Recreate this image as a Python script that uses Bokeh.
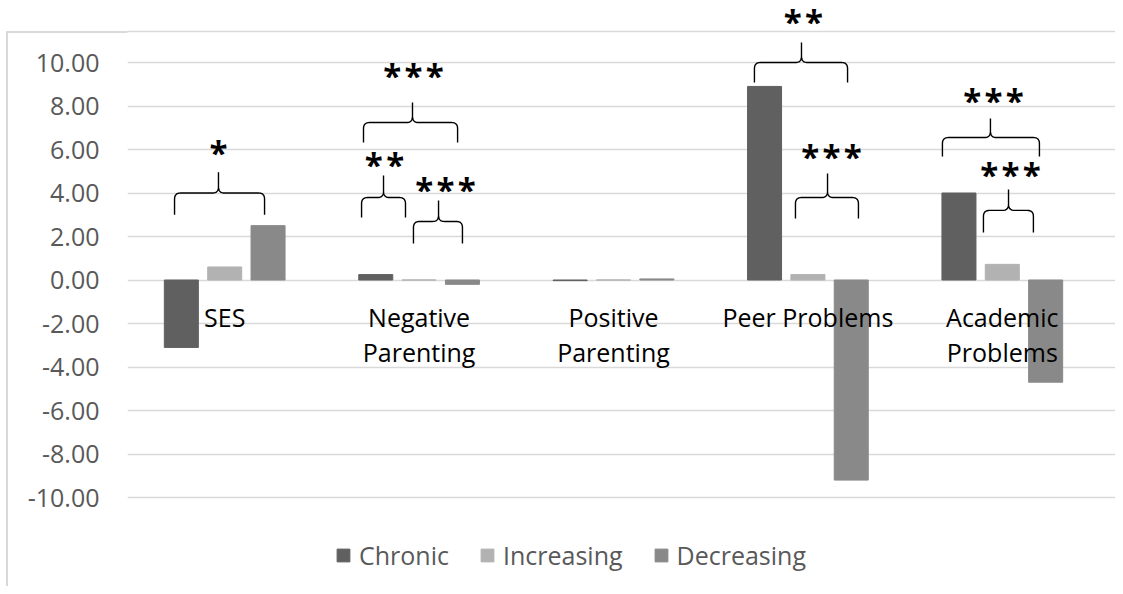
import numpy as np
from bokeh.plotting import figure
from bokeh.models import Range1d, FixedTicker, PrintfTickFormatter, BoxAnnotation, ColumnDataSource
from bokeh.core.properties import value
from bokeh.embed import file_html
from bokeh.resources import INLINE

# ---------------- data ----------------
categories = ["SES", "Negative\nParenting", "Positive\nParenting", "Peer Problems", "Academic\nProblems"]
chronic = [-3.1, 0.25, -0.03, 8.9, 4.0]
increasing = [0.6, 0.0, 0.0, 0.25, 0.72]
decreasing = [2.5, -0.2, 0.05, -9.2, -4.7]
series_names = ["Chronic", "Increasing", "Decreasing"]
y_ticks = [-10, -8, -6, -4, -2, 0, 2, 4, 6, 8, 10]

# significance annotations (category index, star label)
sig_cat = [0, 1, 1, 1, 3, 3, 4, 4]
sig_label = ["*", "***", "**", "***", "**", "***", "***", "***"]

# ---------------- annotation geometry (category-relative) ----------------
brace_left = [-0.258, -0.286, -0.296, -0.029, -0.275, -0.064, -0.308, -0.097]
brace_peak = [-0.032, -0.034, -0.183, 0.100, -0.033, 0.101, -0.061, 0.032]
brace_right = [0.205, 0.198, -0.070, 0.223, 0.204, 0.260, 0.191, 0.160]
brace_end = [3.0, 6.32, 2.87, 1.68, 9.08, 2.83, 5.68, 2.18]
brace_mid = [4.0, 7.24, 3.79, 2.69, 10.0, 3.79, 6.55, 3.2]
brace_tip = [4.95, 8.16, 4.80, 3.66, 10.92, 4.9, 7.43, 4.16]
star_dx = [-0.032, -0.029, -0.178, 0.136, -0.023, 0.121, -0.045, 0.042]
star_y = [5.95, 9.49, 5.40, 4.25, 12.0, 5.77, 8.34, 4.94]

colors = ["#606060", "#b2b2b2", "#898989"]
FONT = "Open Sans"

n = len(categories)
centers = np.arange(n) + 0.5
bar_w = 0.175
offs = [-0.223, 0.0, 0.223]

p = figure(width=1115, height=586, output_backend="svg", toolbar_location=None,
           x_range=Range1d(0, 5.0823), y_range=Range1d(-14.092, 12.851),
           x_axis_location=None, y_axis_location="left",
           min_border_left=127, min_border_right=0, min_border_top=0, min_border_bottom=0)
p.outline_line_color = None
p.background_fill_color = "white"
p.border_fill_alpha = 0
p.styles = {
    "background-color": "white",
    "background-image": "linear-gradient(#d9d9d9, #d9d9d9), linear-gradient(#d9d9d9, #d9d9d9)",
    "background-position": "6px 31px, 6px 31px",
    "background-size": "2px 700px, 1300px 2px",
    "background-repeat": "no-repeat",
}

# bars
for vals, name, col, off in zip([chronic, increasing, decreasing], series_names, colors, offs):
    src = ColumnDataSource(dict(x=centers + off, top=vals))
    p.vbar(x="x", top="top", bottom=0, width=bar_w, source=src, fill_color=col,
           line_color=col, legend_label=name)

# axis styling
ax = p.yaxis[0]
ax.ticker = FixedTicker(ticks=y_ticks)
ax.formatter = PrintfTickFormatter(format="%.2f")
ax.axis_line_color = None
ax.major_tick_line_color = None
ax.minor_tick_line_color = None
ax.major_label_text_font = FONT
ax.major_label_text_font_size = "25px"
ax.major_label_text_color = "#595959"
ax.major_label_standoff = 22
p.xgrid.visible = False
p.ygrid.grid_line_color = "#d9d9d9"
p.ygrid.grid_line_width = 1.6
p.ygrid.bounds = (0, 5)

# category labels inside plot (two lines)
line1 = [c.split("\n")[0] for c in categories]
line2 = [c.split("\n")[1] if "\n" in c else "" for c in categories]
p.text(x=centers, y=[-2.18] * n, text=line1, text_font=value(FONT), text_font_size="25px",
       text_color="black", text_align="center", text_baseline="alphabetic", y_offset=-10)
p.text(x=centers, y=[-3.75] * n, text=line2, text_font=value(FONT), text_font_size="25px",
       text_color="black", text_align="center", text_baseline="alphabetic", y_offset=-10)

# braces
def quad(p0, c, p1, k=10):
    t = np.linspace(0, 1, k)
    x = (1 - t) ** 2 * p0[0] + 2 * (1 - t) * t * c[0] + t ** 2 * p1[0]
    y = (1 - t) ** 2 * p0[1] + 2 * (1 - t) * t * c[1] + t ** 2 * p1[1]
    return list(x), list(y)

rx, ry = 0.031, 0.28
xs, ys = [], []
for i in range(len(sig_cat)):
    cx = centers[sig_cat[i]]
    xl, xm, xr = cx + brace_left[i], cx + brace_peak[i], cx + brace_right[i]
    yb, yh, yp = brace_end[i], brace_mid[i], brace_tip[i]
    px, py = [xl], [yb]
    for seg in [quad((xl, yh - ry), (xl, yh), (xl + rx, yh)),
                quad((xm - rx, yh), (xm, yh), (xm, yh + ry))]:
        px += seg[0]; py += seg[1]
    px.append(xm); py.append(yp)
    for seg in [quad((xm, yh + ry), (xm, yh), (xm + rx, yh)),
                quad((xr - rx, yh), (xr, yh), (xr, yh - ry))]:
        px += seg[0]; py += seg[1]
    px.append(xr); py.append(yb)
    xs.append(px); ys.append(py)
p.multi_line(xs=xs, ys=ys, line_color="black", line_width=1.4)

star_x = [centers[c] + d for c, d in zip(sig_cat, star_dx)]
star_text = ["\u200a".join(s) for s in sig_label]
p.text(x=star_x, y=star_y, text=star_text, text_font=value(FONT), text_font_size="33px",
       text_font_style="bold", text_color="black", text_align="center",
       text_baseline="alphabetic", y_offset=2)

# chart area border (inside the plotting frame)
border = BoxAnnotation(left=6, right=3000, top=31, bottom=3000,
                       left_units="canvas", right_units="canvas",
                       top_units="canvas", bottom_units="canvas",
                       fill_alpha=0, line_color="#d9d9d9", line_alpha=1.0, line_width=1.5)
p.add_layout(border)

# legend
lg = p.legend[0]
lg.orientation = "horizontal"
lg.location = (208, 14)
lg.label_text_font = FONT
lg.label_text_font_size = "25px"
lg.label_text_color = "#595959"
lg.glyph_width = 16
lg.glyph_height = 16
lg.label_standoff = 8
lg.spacing = 30
lg.padding = 0
lg.margin = 0
lg.border_line_color = None
lg.background_fill_alpha = 0

open("out.html", "w").write(file_html(p, INLINE))
